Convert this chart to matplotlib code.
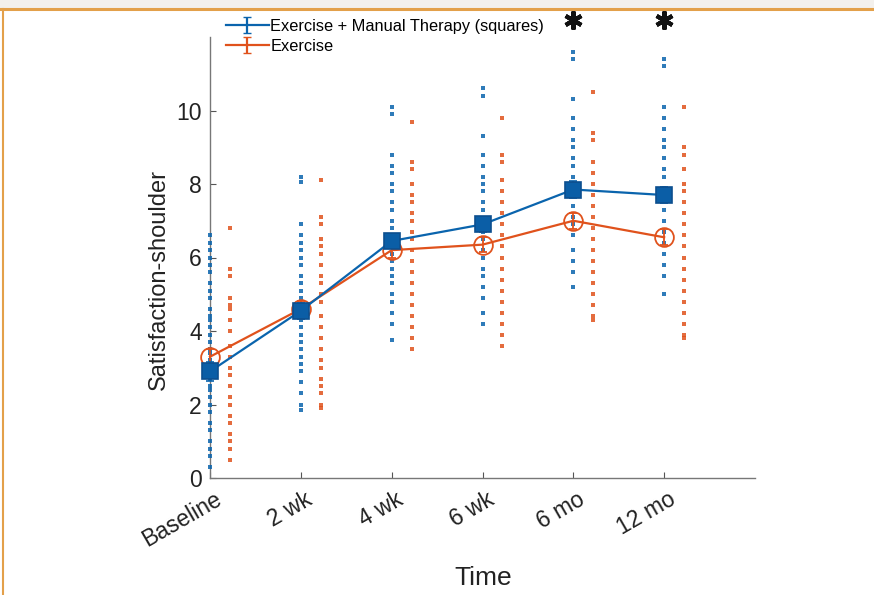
import numpy as np
import matplotlib
matplotlib.use('Agg')
import matplotlib.pyplot as plt
import matplotlib.transforms as mtransforms
from matplotlib.patches import Rectangle
from matplotlib.lines import Line2D

plt.rcParams['font.family'] = ['Liberation Sans', 'DejaVu Sans']

# data
times = ['Baseline', '2 wk', '4 wk', '6 wk', '6 mo', '12 mo']
mean_emt = [2.9, 4.55, 6.45, 6.9, 7.85, 7.7]
err_emt = [0.25, 0.22, 0.2, 0.2, 0.22, 0.22]
mean_ex = [3.3, 4.6, 6.2, 6.35, 7.0, 6.55]
err_ex = [0.22, 0.22, 0.2, 0.2, 0.22, 0.22]
sig_times = ['6 mo', '12 mo']

pts_emt = [
    [0.3, 0.6, 0.8, 1.0, 1.3, 1.5, 1.8, 2.0, 2.2, 2.4, 2.5, 2.7, 3.0, 3.2, 3.4, 3.5,
     3.7, 3.9, 4.1, 4.3, 4.4, 4.6, 4.9, 5.1, 5.3, 5.6, 5.8, 6.0, 6.2, 6.4, 6.6],
    [8.2, 8.05, 6.9, 6.6, 6.4, 6.2, 6.0, 5.8, 5.5, 5.3, 5.1, 4.9, 4.7, 4.5, 4.3,
     4.1, 3.9, 3.7, 3.5, 3.3, 3.1, 2.9, 2.6, 2.3, 2.0, 1.85],
    [10.1, 9.9, 8.8, 8.5, 8.3, 8.0, 7.8, 7.5, 7.3, 7.0, 6.8, 6.5, 6.3, 6.1, 5.9,
     5.7, 5.5, 5.3, 5.0, 4.8, 4.5, 4.2, 3.75],
    [10.6, 10.4, 9.3, 8.8, 8.5, 8.2, 8.0, 7.8, 7.5, 7.3, 7.0, 6.7, 6.5, 6.2, 6.0,
     5.7, 5.5, 5.2, 4.9, 4.5, 4.2],
    [11.6, 11.4, 10.3, 9.8, 9.5, 9.2, 9.0, 8.7, 8.5, 8.2, 8.0, 7.7, 7.4, 7.1, 6.9,
     6.6, 6.2, 5.9, 5.6, 5.2],
    [11.4, 11.2, 10.1, 9.8, 9.5, 9.2, 9.0, 8.7, 8.4, 8.2, 7.9, 7.6, 7.3, 7.0, 6.7,
     6.4, 6.1, 5.8, 5.5, 5.0],
]
pts_ex = [
    [6.8, 5.7, 5.5, 4.9, 4.7, 4.6, 4.3, 4.0, 3.6, 3.3, 3.0, 2.8, 2.5, 2.2, 2.0,
     1.7, 1.5, 1.2, 1.0, 0.8, 0.5],
    [8.1, 7.1, 6.9, 6.5, 6.3, 6.1, 5.8, 5.5, 5.3, 5.0, 4.8, 4.4, 4.1, 3.8, 3.5,
     3.2, 3.0, 2.7, 2.5, 2.3, 2.0, 1.9],
    [9.7, 8.6, 8.4, 8.0, 7.7, 7.5, 7.2, 7.0, 6.7, 6.5, 6.2, 5.9, 5.6, 5.3, 5.0,
     4.7, 4.4, 4.1, 3.8, 3.5],
    [9.8, 8.8, 8.6, 8.1, 7.8, 7.5, 7.2, 6.9, 6.6, 6.3, 6.0, 5.7, 5.4, 5.1, 4.8,
     4.5, 4.2, 3.9, 3.6],
    [10.5, 9.4, 9.2, 8.6, 8.3, 8.0, 7.7, 7.4, 7.1, 6.8, 6.5, 6.2, 5.9, 5.6, 5.3,
     5.0, 4.7, 4.4, 4.3],
    [10.1, 9.0, 8.8, 8.4, 8.0, 7.8, 7.5, 7.2, 6.9, 6.6, 6.3, 6.0, 5.7, 5.4, 5.1,
     4.8, 4.5, 4.2, 3.9, 3.8],
]

blue = '#0a64ad'
orange = '#e0521c'

fig = plt.figure(figsize=(8.74, 5.95), dpi=100)

# frame like the source page
fig.add_artist(Rectangle((0, 1 - 8 / 595), 1, 8 / 595, transform=fig.transFigure,
                         facecolor='#f3f0ec', edgecolor='none'))
fig.add_artist(Line2D([0, 1], [1 - 9 / 595] * 2, transform=fig.transFigure,
                      color='#e3a04a', lw=2.2))
fig.add_artist(Line2D([3 / 874] * 2, [0, 1 - 9 / 595], transform=fig.transFigure,
                      color='#e3a04a', lw=1.5))

ax = fig.add_axes([210 / 874, 1 - 478 / 595, 545 / 874, 441 / 595])
x = np.arange(1, len(times) + 1)

# individual points
for i in range(len(times)):
    ax.plot([x[i]] * len(pts_emt[i]), pts_emt[i], 's', color=blue, ms=2.2,
            mew=0, alpha=0.85, zorder=3, clip_on=False)
    ax.plot([x[i] + 0.22] * len(pts_ex[i]), pts_ex[i], 's', color=orange, ms=2.2,
            mew=0, alpha=0.85, zorder=3, clip_on=False)

# means
e1 = ax.errorbar(x, mean_ex, yerr=err_ex, color=orange, lw=1.6, marker='o', ms=13.5,
                 mfc='none', mec=orange, mew=1.3, capsize=3, elinewidth=1.3, zorder=4)
e2 = ax.errorbar(x, mean_emt, yerr=err_emt, color=blue, lw=1.6, marker='s', ms=11,
                 mfc='#0b5ea6', mec='#0d4f8f', mew=1.2, capsize=3, elinewidth=1.3,
                 zorder=5)
for cont in (e1, e2):
    for art in cont.get_children():
        art.set_clip_on(False)

# legend proxies
h1 = ax.errorbar([np.nan], [np.nan], yerr=[0.1], color=blue, lw=1.6, capsize=3,
                 label='Exercise + Manual Therapy (squares)')
h2 = ax.errorbar([np.nan], [np.nan], yerr=[0.1], color=orange, lw=1.6, capsize=3,
                 label='Exercise')
ax.legend(handles=[h1, h2], loc='upper left', bbox_to_anchor=(226 / 874, 1 - 19 / 595),
          bbox_transform=fig.transFigure, frameon=False, fontsize=11.8,
          handlelength=2.6, handletextpad=0.1, labelspacing=0.3, borderpad=0,
          borderaxespad=0)

for t in sig_times:
    ax.plot(times.index(t) + 1, 12.45, marker=(6, 2, 0), ms=13, mew=3,
            color='#111111', clip_on=False)

ax.set_xlim(1, 7)
ax.set_ylim(0, 12)
ax.set_xticks(x)
ax.set_xticklabels([])
# rotated tick labels drawn as text so they can be nudged
shift = mtransforms.ScaledTranslation(4 / 100, -10 / 100, fig.dpi_scale_trans)
for xi, lab in zip(x, times):
    ax.text(xi, 0, lab, transform=ax.get_xaxis_transform() + shift, rotation=30,
            ha='right', va='top', rotation_mode='anchor', fontsize=16.5,
            color='#222222')
ax.set_yticks([0, 2, 4, 6, 8, 10])
ax.tick_params(axis='both', direction='in', length=4, width=0.8, colors='#555555',
               labelcolor='#222222', pad=6)
ax.tick_params(axis='y', labelsize=16.5)
for s in ['top', 'right']:
    ax.spines[s].set_visible(False)
for s in ['left', 'bottom']:
    ax.spines[s].set_color('#777777')
    ax.spines[s].set_linewidth(1.0)

ax.set_ylabel('Satisfaction-shoulder', fontsize=17, color='#222222')
ax.yaxis.set_label_coords(-0.073, 0.449)
ax.set_xlabel('Time', fontsize=19, color='#222222')
ax.xaxis.set_label_coords(0.501, -0.2)

fig.savefig('out.png', dpi=100)
